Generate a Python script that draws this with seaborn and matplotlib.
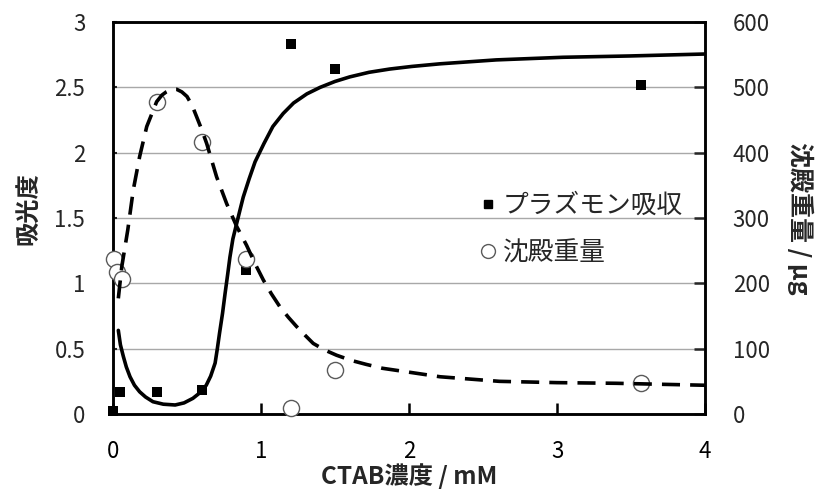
import matplotlib
matplotlib.use("Agg")
import matplotlib.pyplot as plt
from matplotlib.lines import Line2D
import seaborn as sns

# ---- data ----
conc_abs = [0.0, 0.05, 0.3, 0.6, 0.9, 1.2, 1.5, 3.57]
absorb = [0.02, 0.17, 0.17, 0.18, 1.10, 2.83, 2.64, 2.52]

conc_ppt = [0.01, 0.03, 0.06, 0.3, 0.6, 0.9, 1.2, 1.5, 3.57]
weight = [237, 218, 207, 477, 417, 237, 9, 67, 47]

fit_abs_x = [0.036, 0.05, 0.07, 0.09, 0.115, 0.145, 0.18, 0.22, 0.27, 0.34, 0.42, 0.48,
             0.54, 0.59, 0.63, 0.66, 0.69, 0.705, 0.72, 0.74, 0.757, 0.775, 0.79, 0.81,
             0.836, 0.86, 0.88, 0.92, 0.96, 1.02, 1.08, 1.15, 1.22, 1.31, 1.40, 1.50,
             1.60, 1.73, 1.87, 2.02, 2.21, 2.59, 3.04, 3.49, 4.0]
fit_abs_y = [0.64, 0.53, 0.44, 0.36, 0.285, 0.22, 0.17, 0.13, 0.094, 0.075, 0.069, 0.085,
             0.12, 0.165, 0.22, 0.29, 0.39, 0.50, 0.62, 0.77, 0.92, 1.07, 1.20, 1.34,
             1.46, 1.57, 1.66, 1.80, 1.93, 2.07, 2.20, 2.30, 2.38, 2.45, 2.50, 2.545,
             2.58, 2.615, 2.64, 2.66, 2.68, 2.71, 2.73, 2.74, 2.755]

fit_ppt_x = [0.036, 0.059, 0.10, 0.137, 0.18, 0.228, 0.295, 0.33, 0.36, 0.395, 0.43,
             0.465, 0.50, 0.535, 0.565, 0.60, 0.633, 0.70, 0.768, 0.836, 0.903, 0.96,
             1.016, 1.07, 1.128, 1.185, 1.24, 1.30, 1.353, 1.43, 1.51, 1.61, 1.71, 1.82,
             1.94, 2.21, 2.61, 3.0, 3.4, 4.0]
fit_ppt_y = [177, 225, 282, 343, 394, 440, 478, 488, 493, 497, 497, 493, 486, 472, 455,
             435, 414, 363, 322, 287, 258, 230, 205, 184, 164, 148, 134, 120, 108, 98,
             90, 82, 76, 70, 66, 57, 50, 48, 47, 44]

x_ticks = [0, 1, 2, 3, 4]
left_ticks = [0, 0.5, 1, 1.5, 2, 2.5, 3]
left_tick_labels = ["0", "0.5", "1", "1.5", "2", "2.5", "3"]
right_ticks = [0, 100, 200, 300, 400, 500, 600]

legend_labels = ["プラズモン吸収", "沈殿重量"]
xlabel = "CTAB濃度 / mM"
ylabel_left = "吸光度"
ylabel_right = "沈殿重量 / μg"

# ---- style ----
sns.set_style("white")
plt.rcParams["font.family"] = ["Noto Sans CJK JP", "DejaVu Sans"]

fig = plt.figure(figsize=(8.18, 4.92), dpi=100)
ax = fig.add_axes([113 / 818, 78 / 492, 592 / 818, 392 / 492])
ax2 = ax.twinx()

# left axis: absorbance
sns.lineplot(x=fit_abs_x, y=fit_abs_y, ax=ax, color="black", linewidth=2.6,
             estimator=None, sort=False, zorder=3)
sns.scatterplot(x=conc_abs, y=absorb, ax=ax, marker="s", s=62, color="black",
                linewidth=0, zorder=4, clip_on=False)

# right axis: precipitate weight
sns.scatterplot(x=conc_ppt, y=weight, ax=ax2, marker="o", s=135, facecolor="white",
                edgecolor="#5a5a5a", linewidth=1.0, zorder=3, clip_on=False)
sns.lineplot(x=fit_ppt_x, y=fit_ppt_y, ax=ax2, color="black", linewidth=2.6,
             estimator=None, sort=False, zorder=4)
for ln in ax2.get_lines():
    ln.set_dashes((5, 2.8))

ax.set_xlim(0, 4)
ax.set_ylim(0, 3)
ax2.set_ylim(0, 600)

ax.set_xticks(x_ticks)
ax.set_xticklabels([str(t) for t in x_ticks])
ax.set_yticks(left_ticks)
ax.set_yticklabels(left_tick_labels)
ax2.set_yticks(right_ticks)
ax2.set_yticklabels([str(t) for t in right_ticks])

ax.yaxis.grid(True, color="#a8a8a8", linewidth=1.0)
ax.xaxis.grid(False)
ax.set_axisbelow(True)

ax.tick_params(axis="x", direction="in", length=8, width=1.8, pad=19, labelsize=16,
               colors="black", bottom=True)
ax.tick_params(axis="y", direction="in", length=3, width=1.5, pad=20, labelsize=16,
               left=True)
ax2.tick_params(axis="y", direction="in", length=8, width=1.8, pad=20, labelsize=16,
                right=True)

for a in (ax, ax2):
    for sp in a.spines.values():
        sp.set_visible(True)
        sp.set_color("black")
        sp.set_linewidth(1.8)

ax.set_xlabel(xlabel, fontsize=17.5, fontweight="bold", labelpad=0)
ax.set_ylabel(ylabel_left, fontsize=17.5, fontweight="bold")
ax.yaxis.set_label_coords(-0.122, 0.525)
ax2.set_ylabel(ylabel_right, fontsize=18, fontweight="bold", rotation=270, labelpad=31)

handles = [
    Line2D([], [], marker="s", linestyle="", color="black", markersize=6),
    Line2D([], [], marker="o", linestyle="", markerfacecolor="white",
           markeredgecolor="#5a5a5a", markersize=10, markeredgewidth=1.0),
]
ax2.legend(handles, legend_labels, loc="upper left", bbox_to_anchor=(0.617, 0.565),
           frameon=False, fontsize=18.5, handlelength=0.75, handletextpad=0.2,
           labelspacing=0.85, borderpad=0, borderaxespad=0)

fig.savefig("out.png", dpi=100)
